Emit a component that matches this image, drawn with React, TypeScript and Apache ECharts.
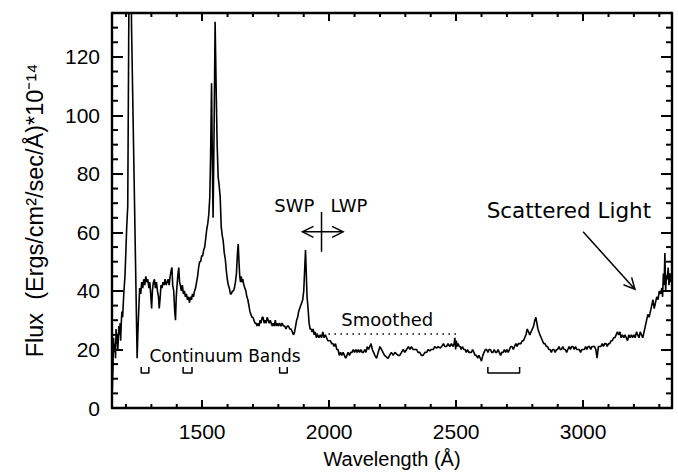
import React, { useEffect, useRef } from "react";
import * as echarts from "echarts";

// Spectrum: [wavelength (Å), flux (1e-14 erg/cm²/s/Å)]
const spectrumSWP: [number, number][] = [
  [1145,3],[1147,9],[1149,14],[1151,24],[1154,19],[1157,22],[1159,17],[1161,27],[1164,22],[1166,25],[1168,20],[1170,24],[1172,28],[1175,25],[1177,29],[1179,23],[1182,30],[1184,33],[1187,31],[1189,35],[1192,40],[1196,45],[1199,52],[1203,62],[1207,69],[1212,145],[1216,190],[1222,130],[1244,17],[1247,26],[1250,33],[1254,41],[1258,39],[1262,43],[1266,41],[1270,44],[1274,42],[1278,45],[1282,43],[1286,44],[1290,41],[1294,43],[1298,38],[1301,34],[1304,40],[1308,43],[1312,44],[1316,41],[1320,43],[1324,40],[1328,38],[1331,34],[1334,37],[1338,42],[1342,41],[1346,43],[1350,42],[1354,44],[1358,42],[1362,43],[1366,44],[1370,42],[1374,45],[1378,47],[1381,48],[1384,42],[1388,40],[1392,33],[1395,30],[1398,38],[1402,43],[1405,46],[1408,48],[1411,43],[1414,42],[1418,40],[1422,42],[1426,39],[1430,40],[1434,38],[1438,39],[1442,37],[1446,38],[1450,36],[1454,38],[1458,37],[1462,39],[1466,38],[1470,40],[1474,41],[1478,43],[1482,45],[1486,48],[1490,50],[1494,50],[1498,52],[1502,52],[1506,54],[1510,55],[1514,58],[1518,61],[1522,63],[1526,66],[1530,72],[1533,85],[1537,111],[1540,85],[1543,65],[1547,95],[1551,132],[1555,110],[1559,90],[1563,79],[1567,76],[1571,72],[1575,62],[1579,59],[1583,57],[1587,53],[1591,51],[1595,47],[1599,44],[1603,42],[1607,41],[1611,39],[1615,39],[1619,40],[1623,40],[1627,41],[1631,43],[1635,46],[1639,53],[1642,56],[1645,50],[1648,45],[1651,43],[1654,45],[1657,43],[1660,44],[1664,42],[1668,41],[1672,40],[1676,38],[1680,37],[1684,35],[1688,33],[1692,32],[1696,31],[1700,31],[1704,30],[1708,29],[1712,29],[1716,28],[1720,29],[1724,28],[1728,30],[1732,29],[1736,31],[1740,31],[1744,29],[1748,30],[1752,29],[1756,31],[1760,30],[1764,29],[1768,30],[1772,29],[1776,28],[1780,29],[1784,28],[1788,30],[1792,28],[1796,29],[1800,28],[1805,29],[1810,28],[1815,29],[1820,28],[1825,28],[1830,27],[1835,28],[1840,28],[1845,27],[1850,27],[1855,26],[1860,25],[1864,26],[1868,28],[1872,30],[1876,31],[1880,33],[1884,34],[1888,35],[1892,36],[1896,37],[1900,40],[1904,48],[1907,54],[1910,46],[1913,38],[1917,34],[1921,29],[1925,27],[1929,27],[1933,26],[1937,27],[1941,25],[1945,26],[1950,24],[1955,25],[1960,24],[1965,25]
];
const spectrumLWP: [number, number][] = [
  [1970,24],[1975,26],[1980,24],[1985,25],[1990,24],[1995,23],[2000,23],[2005,23],[2010,22],[2015,22],[2020,21],[2025,22],[2030,20],[2035,20],[2040,18],[2045,19],[2050,18],[2055,19],[2060,18],[2065,17],[2070,18],[2075,19],[2080,18],[2085,19],[2090,19],[2095,20],[2100,19],[2105,20],[2110,19],[2115,20],[2120,19],[2125,20],[2130,19],[2135,19],[2140,20],[2145,19],[2150,21],[2155,20],[2160,21],[2165,22],[2170,20],[2175,19],[2180,18],[2187,17],[2193,19],[2200,21],[2206,20],[2212,19],[2218,18],[2225,17.5],[2232,17],[2238,18],[2245,19],[2252,18],[2259,19],[2265,18.5],[2272,18],[2278,18],[2285,19],[2292,20],[2298,19],[2305,20],[2312,21],[2318,20],[2324,21],[2330,20],[2337,20],[2344,20],[2350,19],[2357,19],[2363,18],[2370,18],[2377,19],[2384,19],[2390,20],[2396,19.5],[2403,20],[2410,20],[2416,21],[2423,20.5],[2430,21],[2436,20.5],[2443,21],[2450,22],[2456,21],[2462,21],[2468,22],[2475,21],[2481,22],[2488,21],[2492,22],[2495,24],[2498,20],[2501,23],[2504,21],[2508,22],[2512,21],[2516,21],[2520,20],[2525,21],[2530,20],[2535,20],[2540,19],[2545,20],[2550,19],[2555,19],[2560,19],[2565,20],[2570,19],[2575,18],[2580,18],[2585,17],[2590,18],[2595,17],[2600,16],[2605,18],[2610,19],[2615,20],[2620,20],[2625,19],[2630,20],[2635,20],[2640,19],[2645,19],[2650,20],[2655,19],[2660,19],[2665,20],[2670,19],[2675,18],[2680,19],[2685,19],[2690,20],[2695,19],[2700,20],[2705,19],[2710,20],[2715,21],[2720,21],[2725,20],[2730,21],[2735,22],[2740,21],[2745,22],[2750,22],[2755,22],[2760,23],[2765,23],[2770,24],[2775,25],[2780,27],[2785,26],[2790,25],[2795,26],[2800,27],[2805,28],[2810,30],[2814,31],[2818,29],[2822,27],[2826,26],[2830,25],[2835,24],[2840,23],[2845,22],[2850,22],[2855,21],[2860,21],[2865,20],[2870,20],[2875,19],[2880,20],[2885,20],[2890,19],[2895,20],[2900,20],[2905,21],[2910,20],[2915,20],[2920,21],[2925,20],[2930,20],[2935,19],[2940,20],[2945,21],[2950,20],[2955,21],[2960,21],[2965,20],[2970,21],[2975,20],[2980,20],[2985,20],[2990,19],[2995,20],[3000,20],[3005,20],[3010,21],[3015,20],[3020,21],[3025,21],[3030,20],[3035,21],[3040,21],[3045,21],[3050,20],[3055,17],[3060,21],[3065,21],[3070,21],[3075,22],[3080,21],[3085,22],[3090,22],[3095,21],[3100,22],[3105,22],[3110,23],[3115,23],[3120,24],[3125,24],[3130,25],[3135,26],[3140,25],[3145,26],[3150,24],[3155,25],[3160,24],[3165,25],[3170,24],[3175,23],[3180,25],[3185,24],[3190,25],[3195,24],[3200,25],[3205,24],[3210,26],[3215,25],[3220,24],[3225,26],[3230,25],[3235,24],[3240,26],[3245,28],[3250,30],[3255,32],[3260,31],[3265,33],[3270,35],[3275,37],[3280,34],[3285,36],[3290,38],[3295,37],[3300,40],[3305,39],[3310,41],[3313,38],[3316,46],[3319,42],[3322,53],[3325,40],[3328,45],[3331,44],[3335,48],[3338,42],[3342,46],[3346,43],[3350,44]
];

const continuumBands: [number, number][] = [[1260, 1290], [1425, 1460], [1805, 1835], [2625, 2750]];
const bandBottom = 12;
const bandTop = 14;
const smoothedRange: [number, number] = [1950, 2500];
const smoothedLevel = 25.3;

const xMin = 1145;
const xMax = 3350;
const yMin = 0;
const yMax = 135;
const xMajorTicks = [1500, 2000, 2500, 3000];
const xMinorTicks = [1200, 1300, 1400, 1600, 1700, 1800, 1900, 2100, 2200, 2300, 2400, 2600, 2700, 2800, 2900, 3100, 3200, 3300];
const yMajorTicks = [0, 20, 40, 60, 80, 100, 120];
const yMinorTicks = [5, 10, 15, 25, 30, 35, 45, 50, 55, 65, 70, 75, 85, 90, 95, 105, 110, 115, 125, 130];

// annotation anchors in data coordinates
const swpLabel: [number, number] = [1863, 69.3];
const lwpLabel: [number, number] = [2078, 69.3];
const divider = { x: 1970, y0: 53.4, y1: 67 };
const doubleArrow = { x0: 1895, x1: 2055, y: 60.2 };
const scatteredLabel: [number, number] = [2944, 67.6];
const scatteredArrow: [[number, number], [number, number]] = [[3000, 60.2], [3204, 40.6]];
const smoothedLabel: [number, number] = [2229, 30.2];
const continuumLabel: [number, number] = [1590, 17.9];

const TICK_FONT = "Liberation Sans";
const ANN_FONT = "DejaVu Sans";
const INK = "#000";
const FRAME_W = 2.4;
const TICK_W = 2;

function arrowHead(tip: number[], from: number[], L = 11, W = 5.5) {
  const dx = tip[0] - from[0];
  const dy = tip[1] - from[1];
  const d = Math.hypot(dx, dy) || 1;
  const ux = dx / d, uy = dy / d;
  const nx = -uy, ny = ux;
  return [
    [tip[0] - L * ux + W * nx, tip[1] - L * uy + W * ny],
    [tip[0], tip[1]],
    [tip[0] - L * ux - W * nx, tip[1] - L * uy - W * ny],
  ];
}

// minor tick table for the custom series: [value, kind (0 = x, 1 = y), length in px]
const minorTickTable: number[][] = [
  ...xMinorTicks.map((v) => [v, 0, 4]),
  ...yMinorTicks.map((v) => [v, 1, 6]),
];

function xAxisCfg(position: string, showLabel: boolean) {
  return {
    type: "value",
    position,
    min: xMin,
    max: xMax,
    axisLine: { show: true, onZero: false, lineStyle: { color: INK, width: FRAME_W } },
    axisTick: { show: true, inside: true, length: 8, customValues: xMajorTicks, lineStyle: { color: INK, width: TICK_W } },
    axisLabel: showLabel
      ? { show: true, customValues: xMajorTicks, margin: 13, fontSize: 21, fontFamily: TICK_FONT, color: INK, formatter: (v: number) => String(v) }
      : { show: false },
    splitLine: { show: false },
  };
}
function yAxisCfg(position: string, showLabel: boolean) {
  return {
    type: "value",
    position,
    min: yMin,
    max: yMax,
    axisLine: { show: true, onZero: false, lineStyle: { color: INK, width: FRAME_W } },
    axisTick: { show: true, inside: true, length: 11, customValues: yMajorTicks, lineStyle: { color: INK, width: TICK_W } },
    axisLabel: showLabel
      ? { show: true, customValues: yMajorTicks, margin: 12, fontSize: 21, fontFamily: TICK_FONT, color: INK, formatter: (v: number) => String(v) }
      : { show: false },
    splitLine: { show: false },
  };
}

const GRID = { left: 112, right: 6, top: 13, bottom: 65 };

export default function App() {
  const ref = useRef<HTMLDivElement>(null);
  useEffect(() => {
    if (!ref.current) return;
    const chart = echarts.init(ref.current, null, { renderer: "svg" });
    const bandSeries = continuumBands.map(([a, b]) => ({
      type: "line",
      data: [[a, bandTop], [a, bandBottom], [b, bandBottom], [b, bandTop]],
      showSymbol: false,
      lineStyle: { color: INK, width: 1.5 },
      silent: true,
    }));
    const tickStyle = { stroke: INK, lineWidth: TICK_W };
    const lineStyle = { stroke: INK, lineWidth: 1.5, fill: "none" };
    const textEl = (p: number[], text: string, size: number) => ({
      type: "text",
      x: p[0],
      y: p[1],
      style: {
        text,
        fontSize: size,
        fontFamily: ANN_FONT,
        fill: INK,
        align: "center",
        verticalAlign: "middle",
        textAlign: "center",
        textVerticalAlign: "middle",
      },
    });
    const W = 678, H = 473;
    const plotCenterX = GRID.left + (W - GRID.left - GRID.right) / 2;

    chart.setOption({
      animation: false,
      backgroundColor: "#ffffff",
      grid: { ...GRID, containLabel: false, outerBoundsMode: "none" },
      xAxis: [xAxisCfg("bottom", true), xAxisCfg("top", false)],
      yAxis: [yAxisCfg("left", true), yAxisCfg("right", false)],
      graphic: [
        {
          type: "text",
          x: plotCenterX,
          y: 459,
          silent: true,
          style: { text: "Wavelength (Å)", fontSize: 20, fontFamily: TICK_FONT, fill: INK, align: "center", verticalAlign: "middle", textAlign: "center", textVerticalAlign: "middle" },
        },
        {
          type: "text",
          x: 35,
          y: (GRID.top + (H - GRID.bottom)) / 2,
          rotation: Math.PI / 2,
          silent: true,
          style: { text: "Flux  (Ergs/cm²/sec/Å)*10⁻¹⁴", fontSize: 23.5, fontFamily: TICK_FONT, fill: INK, align: "center", verticalAlign: "middle", textAlign: "center", textVerticalAlign: "middle" },
        },
      ],
      series: [
        {
          type: "line",
          data: [...spectrumSWP, ...spectrumLWP],
          showSymbol: false,
          clip: true,
          lineStyle: { color: INK, width: 1.6 },
          silent: true,
        },
        {
          type: "line",
          data: [[smoothedRange[0], smoothedLevel], [smoothedRange[1], smoothedLevel]],
          showSymbol: false,
          lineStyle: { color: INK, width: 1.5, type: [1.5, 4.5] },
          silent: true,
        },
        ...bandSeries,
        {
          type: "custom",
          name: "minorTicks",
          data: minorTickTable,
          encode: { x: 0, y: 1 },
          silent: true,
          clip: false,
          renderItem: (params: any, api: any) => {
            const cs = params.coordSys;
            const v = api.value(0);
            const kind = api.value(1);
            const len = api.value(2);
            const top = cs.y, bottom = cs.y + cs.height, left = cs.x, right = cs.x + cs.width;
            if (kind === 0) {
              const px = api.coord([v, yMin])[0];
              return {
                type: "group",
                children: [
                  { type: "line", shape: { x1: px, y1: bottom, x2: px, y2: bottom - len }, style: tickStyle },
                  { type: "line", shape: { x1: px, y1: top, x2: px, y2: top + len }, style: tickStyle },
                ],
              };
            }
            const py = api.coord([xMin, v])[1];
            return {
              type: "group",
              children: [
                { type: "line", shape: { x1: left, y1: py, x2: left + len, y2: py }, style: tickStyle },
                { type: "line", shape: { x1: right, y1: py, x2: right - len, y2: py }, style: tickStyle },
              ],
            };
          },
        },
        {
          type: "custom",
          name: "annotations",
          data: [[xMin, yMin]],
          silent: true,
          clip: false,
          renderItem: (_params: any, api: any) => {
            const C = (p: number[]) => api.coord(p);
            const dvTop = C([divider.x, divider.y1]);
            const dvBot = C([divider.x, divider.y0]);
            const daL = C([doubleArrow.x0, doubleArrow.y]);
            const daR = C([doubleArrow.x1, doubleArrow.y]);
            const saFrom = C(scatteredArrow[0]);
            const saTo = C(scatteredArrow[1]);
            return {
              type: "group",
              children: [
                textEl(C(swpLabel), "SWP", 18),
                textEl(C(lwpLabel), "LWP", 18),
                textEl(C(scatteredLabel), "Scattered Light", 21.5),
                textEl(C(smoothedLabel), "Smoothed", 18),
                textEl(C(continuumLabel), "Continuum Bands", 17),
                { type: "line", shape: { x1: dvTop[0], y1: dvTop[1], x2: dvBot[0], y2: dvBot[1] }, style: lineStyle },
                { type: "line", shape: { x1: daL[0], y1: daL[1], x2: daR[0], y2: daR[1] }, style: lineStyle },
                { type: "polyline", shape: { points: arrowHead(daL, daR) }, style: lineStyle },
                { type: "polyline", shape: { points: arrowHead(daR, daL) }, style: lineStyle },
                { type: "line", shape: { x1: saFrom[0], y1: saFrom[1], x2: saTo[0], y2: saTo[1] }, style: lineStyle },
                { type: "polyline", shape: { points: arrowHead(saTo, saFrom) }, style: lineStyle },
              ],
            };
          },
        },
      ],
    });
    return () => chart.dispose();
  }, []);
  return (
    <div
      ref={ref}
      style={{ position: "absolute", left: 0, top: 0, width: 678, height: 473, background: "#fff" }}
    />
  );
}
